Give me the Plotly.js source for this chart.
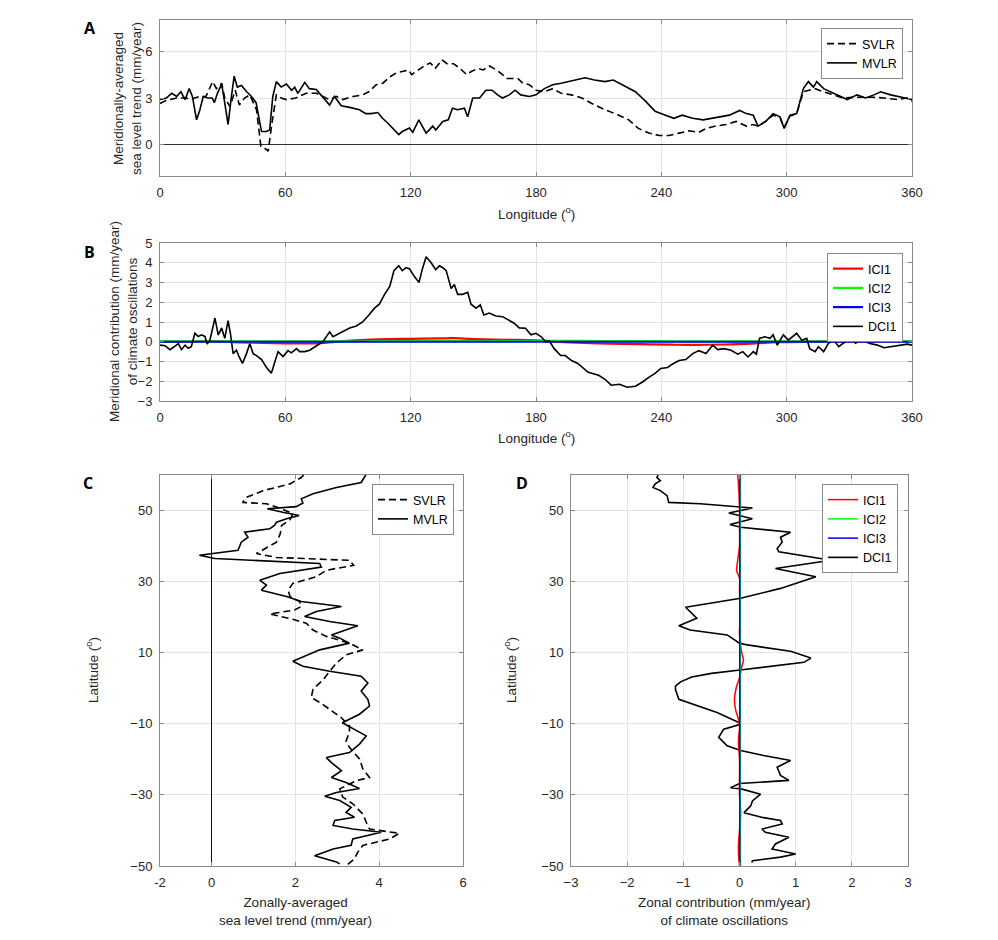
<!DOCTYPE html>
<html>
<head>
<meta charset="utf-8">
<script src="https://cdn.plot.ly/plotly-3.0.1.min.js"></script>
<style>html,body{margin:0;padding:0;background:#fff;}#chart{width:998px;height:940px;}</style>
</head>
<body>
<div id="chart"></div>
<script>
// ---------- Panel A: meridionally-averaged sea level trend ----------
const lonA_MVLR = [0,3,5.6,8,10,12,14,15.5,17.5,19,20.7,23,25,26,27.5,29.5,30.5,32.6,34,35.5,37,39,41.5,43.8,46,48.6,51,52.5,54,55.7,58,60.5,63,64.5,66,69.3,71.5,74.8,77,81.2,83.5,86.8,90.8,95.5,98.5,101,104.3,106.5,109,111.5,114.3,116,119.4,121,123.9,127.4,130.6,132,135.4,138,140,142.5,145.7,147.3,149.7,153,156,159,161.6,164,167.2,170,172.7,176.8,180,184,188,192,197,203.5,208,213,217,221,227.6,232.4,237,242,246,250,255,260,264.6,267.8,272.6,277.5,280.7,284,286.3,290,293.5,296.8,298.8,301.6,304.8,308,310.4,312.8,314.4,317.7,320.9,324,329,333.7,337.7,341.8,345,349.8,354.4,360];
const MVLR_A = [2.9,3.0,3.3,3.1,3.4,2.9,3.6,3.1,1.6,2.2,3.1,3.0,3.0,2.7,3.3,3.9,3.1,1.3,2.9,4.4,3.7,3.8,3.4,3.1,2.7,0.85,0.85,0.95,3.1,4.05,3.7,3.9,3.5,3.7,3.3,4.0,3.6,3.55,3.2,2.55,3.1,2.5,2.4,2.25,2.0,2.0,2.07,1.7,1.4,1.07,0.65,0.85,1.07,0.8,1.6,0.75,1.2,0.95,1.5,1.6,2.35,2.25,2.35,1.8,3.0,3.0,3.5,3.5,3.2,3.0,3.2,3.5,3.2,3.1,3.2,3.6,3.85,3.95,4.1,4.3,4.15,4.05,4.15,3.85,3.4,2.8,2.15,1.9,1.7,1.9,1.7,1.6,1.7,1.8,1.9,2.2,2.0,1.9,1.2,1.5,2.0,1.8,1.05,1.9,2.0,3.6,4.05,3.7,4.05,3.6,3.4,3.2,2.9,3.2,3.0,3.2,3.4,3.2,3.05,2.9];
const lonA_SVLR = [0,3,8,11,15.5,19,22,25.2,27,29.5,31,33.5,36,38,40.5,43,46.2,48.3,50,51.8,53.4,55.7,58,60.5,65,70,75,78,81,84.4,87.6,92.4,97,100,103.5,106.7,110,113,116,119,120.5,123.8,127,129.4,131.8,135,137.4,140.5,143.6,146.8,149,152.3,154.7,157.8,161,164,165.8,169,171.3,173.7,176.8,180,184,188,192,197,202,206.7,213,219.6,224.4,229,234,239,243.7,248.5,253.3,258,261.4,266,271,275.8,280.7,284,286.3,290,293.5,296.8,298.8,301.6,304.8,308,311,313.6,317.7,322.5,327,333,341,346.6,353,357.6,360];
const SVLR_A = [2.65,2.85,3.0,3.0,2.95,3.1,3.1,4.05,3.6,3.95,3.0,2.45,3.5,2.55,3.0,3.2,2.25,-0.1,-0.2,-0.4,1.2,3.2,3.0,2.9,3.0,3.3,3.3,3.1,2.9,3.1,2.9,3.1,3.2,3.4,3.85,3.95,4.35,4.6,4.7,4.8,4.5,4.8,5.1,5.25,4.9,5.45,5.2,5.2,4.9,4.5,4.7,4.9,4.8,5.05,4.8,4.5,4.25,4.25,4.25,3.95,3.85,3.5,3.4,3.6,3.3,3.2,3.0,2.65,2.25,1.9,1.6,1.05,0.75,0.6,0.6,0.75,0.9,0.8,1.05,1.2,1.3,1.5,1.2,1.3,1.2,1.5,1.9,1.75,1.1,1.85,2.0,3.4,3.5,3.6,3.4,3.2,3.0,3.05,3.05,3.0,2.9,3.0,2.8];

// ---------- Panel B: meridional contribution of climate oscillations ----------
const lonB_DCI1 = [0,2.4,4.8,7,8.8,10.3,12,13.5,15,16.7,18.3,19.9,21.5,22.6,23.9,26.3,27.9,29.5,31,32.6,33.7,35,36.6,37.9,39.5,41.4,43,44.6,46.2,48.6,51,53.3,54.9,56.5,58.9,61.3,62.9,65.3,66.9,69.3,71.7,74,76.4,78,79.6,81.2,82.8,84.4,87.6,90.8,94,97,100,102.7,105,107.5,110,112,114.3,116,117.8,119.4,121.8,124,125.5,127.4,129.8,132,133.8,135.4,137,139.4,140.9,142.5,144.9,147.3,148.9,151.3,153.3,155,157.6,160.8,164,167.2,169.5,172,175,177.6,180,182.5,184.7,186.3,188.7,191.8,194,197,200,205,210,213,216,220,223.6,227.6,230.8,234,237,239.7,243,245,248.5,251.7,255,258,261.4,264.6,267,270,273.4,276.6,279,281.5,284,285.5,287,289.5,292,293.5,295.5,298.4,300.8,304.8,307.2,309.6,311,313.6,315.2,317.7,320,322.5,324.9,328,331.3,333,336,339.4,343.4,346.6,349.8,353.8,357.8,360];
const DCI1_B = [-0.17,-0.2,-0.4,-0.25,-0.1,-0.4,-0.17,-0.33,-0.25,0.43,0.27,0.35,0.27,-0.12,0.08,1.2,0.34,0.7,0.17,1.07,0.43,-0.6,-0.43,-0.77,-1.1,-0.6,-0.1,-0.6,-0.7,-0.9,-1.3,-1.6,-1.1,-0.5,-0.75,-0.45,-0.56,-0.35,-0.5,-0.5,-0.43,-0.25,-0.1,0,0.22,0.5,0.25,0.34,0.5,0.7,0.8,1.0,1.35,1.7,1.9,2.4,2.8,3.6,3.85,3.6,3.75,3.7,3.3,3.0,3.65,4.3,4.0,3.65,3.85,3.75,3.6,2.7,2.9,2.4,2.4,2.5,1.9,1.7,1.87,1.35,1.45,1.3,1.27,1.1,0.94,0.7,0.68,0.35,0.43,0.25,0,0.05,-0.35,-0.7,-0.7,-0.95,-1.1,-1.55,-1.7,-1.9,-2.2,-2.15,-2.3,-2.25,-2.05,-1.8,-1.6,-1.35,-1.3,-1.15,-0.95,-0.9,-0.6,-0.45,-0.6,-0.17,-0.4,-0.35,-0.43,-0.63,-0.5,-0.77,-0.5,-0.63,0.17,0.25,0.17,0.35,-0.17,0.35,0.08,0.43,0.08,0.17,-0.35,-0.5,-0.25,-0.5,-0.08,0.1,-0.25,0,0.12,-0.08,0.12,-0.08,-0.17,-0.3,-0.25,-0.2,-0.12,-0.17];
const lonB_ICI = [0,15,25,35,45,60,75,90,105,120,135,140,150,165,180,190,200,215,230,245,255,270,285,295,310,330,345,360];
const ICI1_B = [0,0,0.03,-0.02,-0.05,-0.08,-0.08,0.05,0.12,0.15,0.17,0.18,0.14,0.1,0.07,0,-0.05,-0.1,-0.12,-0.15,-0.16,-0.14,-0.08,-0.02,0,0,0,0];
const ICI2_B = [0.02,0.02,0.02,0.02,0.02,0.02,0.02,0.02,0.03,0.03,0.03,0.03,0.03,0.03,0.04,0.04,0.04,0.03,0.03,0.02,0.02,0.02,0.02,0.02,0.02,0.02,0.02,0.02];
const ICI3_B = [0,0,0,0,0,0,0,0,0,0,0,0,0,0,0,0,0,0,0,0,0,0,0,0,0,0,0,0];

// ---------- Panel C: zonally-averaged sea level trend ----------
const latC_MVLR = [60,59.3,57.9,56.5,54.7,53.3,52.1,51.1,50.5,49.5,48.6,47.7,46.7,45.8,44.9,43.9,42.5,41.1,38.8,37.4,36.5,35.1,34.1,32.3,30.4,29,27.6,25.8,24.4,23,21.6,20.2,18.8,17.6,16.4,15,14.1,12.7,10.8,7.6,6.2,4.8,3.4,1.5,-0.8,-3.1,-5,-7.3,-9.7,-11.5,-13.4,-15.7,-18.1,-19.5,-20.9,-23.2,-25.1,-26.5,-28.2,-29.3,-30.4,-31.6,-33.5,-34.9,-36.3,-37.2,-38.6,-39.6,-40.5,-42.4,-44.2,-45.2,-47.1,-48.9,-49.4];
const MVLR_C = [3.68,3.65,3.57,2.98,2.42,2.14,2.18,2.02,1.33,1.7,2.09,1.79,1.55,1.5,1.39,0.79,0.87,0.71,0.63,-0.29,0.08,2.58,2.62,1.63,1.15,1.31,1.19,1.79,2.14,3.1,2.5,2.22,2.82,3.49,3.21,2.86,3.06,3.29,2.58,1.94,2.18,2.82,3.57,3.73,3.57,3.73,3.77,3.53,3.12,3.41,3.69,3.53,3.29,2.74,2.86,3.1,2.86,3.21,3.53,2.98,2.7,3.06,3.33,3.21,3.41,2.94,2.9,3.37,4.05,3.37,3.33,2.9,2.46,2.98,3.06];
const latC_SVLR = [60,59.3,57.5,55.6,53.7,52.3,51.9,50.5,49.1,47.4,45.8,43.5,41.1,39.7,37.9,36.8,36.0,34.6,33.2,31.4,29.5,27.6,25.8,24.4,23,22,20.9,19.4,18.3,16.4,14.6,12.7,10.8,9.4,7.1,4.8,2.4,-0.3,-2.6,-4.1,-5.9,-8.3,-10.6,-12.4,-14.8,-16.6,-19.9,-22.7,-25.1,-26,-28.3,-30.6,-32.5,-35.4,-37.7,-39.6,-40.8,-42.4,-44.2,-46.1,-48,-49.4,-50];
const SVLR_C = [2.2,2.14,1.87,1.23,0.83,0.74,1.31,1.67,1.94,1.87,1.67,1.64,1.55,1.35,1.07,1.55,3.29,3.39,2.74,2.5,1.94,1.83,1.87,2.1,2.14,1.98,1.39,1.94,2.26,2.42,2.74,3.29,3.61,3.21,2.98,2.82,2.66,2.42,2.38,2.6,2.82,3.1,3.29,3.29,3.21,3.29,3.53,3.61,3.77,3.45,3.06,3.13,3.37,3.61,3.69,3.77,4.48,4.25,3.61,3.49,3.41,3.25,3.2];

// ---------- Panel D: zonal contribution of climate oscillations ----------
const latD_DCI1 = [60,59.3,58.4,57.5,56.5,55.6,54.2,52.3,51.9,51.1,50.7,49.3,47.7,46.1,45.3,43.9,42.5,41.1,39.3,38.4,36,33.7,31.4,28.1,25.3,22.8,19.7,17.6,16.4,15,12.7,12.2,10.4,8.5,7.3,5.2,4.2,3.2,1.8,0.6,-0.35,-3.1,-4.5,-6.8,-9.7,-10.2,-11.5,-13.8,-16.2,-17.5,-18.9,-20.3,-22.2,-24.5,-25.9,-26.8,-28,-28.3,-29.8,-31.7,-33.1,-35,-36.4,-37.2,-38.2,-39.6,-40.5,-41.9,-43.8,-45.2,-46.6,-47.5,-48.5,-49];
const DCI1_D = [-1.45,-1.47,-1.41,-1.5,-1.54,-1.41,-1.29,-1.26,-0.7,0,0.23,-0.19,0.23,-0.17,0.02,0.91,0.73,0.76,0.67,0.7,1.63,0.64,1.36,0.73,0.02,-0.96,-0.76,-1.08,-0.88,-0.22,0,0.14,0.91,1.27,1.15,0.05,-0.5,-0.85,-1.05,-1.14,-1.14,-1.08,-0.82,-0.4,0,0,-0.28,-0.37,-0.22,0.02,0.43,0.91,0.67,0.73,0.88,0,-0.16,0.03,0.375,0.23,0.2,0.08,0.43,0.73,0.76,0.4,0.46,0.88,0.64,0.58,1.0,0.73,0.23,0.22];
const latD_ICI = [60,55,50,45,40,35,33,31,28,20,15,10,8,6,3,0,-3,-6,-10,-15,-20,-30,-35,-40,-45,-50];
const ICI1_D = [-0.03,-0.01,0,0,0,-0.04,-0.05,0,0,0.01,0,0.04,0.07,0.04,0,-0.06,-0.09,-0.07,0,-0.02,0,0,0.02,0,-0.02,0];
const ICI2_D = [0.015,0.015,0.015,0.015,0.015,0.015,0.015,0.015,0.015,0.015,0.015,0.015,0.015,0.015,0.015,0.015,0.015,0.015,0.015,0.015,0.015,0.015,0.015,0.015,0.015,0.015];
const ICI3_D = [0.005,0.005,0.005,0.005,0.005,0.005,0.005,0.005,0.005,0.005,0.005,0.005,0.005,0.005,0.005,0.005,0.005,0.005,0.005,0.005,0.005,0.005,0.005,0.005,0.005,0.005];

const lonTicks = [0,60,120,180,240,300,360];

// ---------- layout helpers ----------
const W = 998, H = 940;
const FONT = 'Liberation Sans, Arial, sans-serif';
const px = v => v / W;
const py = v => 1 - v / H;
const DASH = '7px,4px';

function axisBase(extra) {
  return Object.assign({
    showline: true, mirror: 'ticks', linecolor: '#8a8a8a', linewidth: 1,
    ticks: 'inside', ticklen: 4, tickcolor: '#8a8a8a', tickwidth: 1,
    showgrid: true, gridcolor: '#e3e3e3', gridwidth: 1,
    zeroline: false, fixedrange: true,
    tickfont: {family: FONT, size: 13, color: '#262626'},
    ticklabelstandoff: 4
  }, extra);
}

const traces = [
  // A
  {x: lonA_SVLR, y: SVLR_A, xaxis: 'x', yaxis: 'y', name: 'SVLR', mode: 'lines',
   line: {color: '#000', width: 1.6, dash: DASH}, legend: 'legend'},
  {x: lonA_MVLR, y: MVLR_A, xaxis: 'x', yaxis: 'y', name: 'MVLR', mode: 'lines',
   line: {color: '#000', width: 1.6}, legend: 'legend'},
  // B
  {x: lonB_ICI, y: ICI1_B, xaxis: 'x2', yaxis: 'y2', name: 'ICI1', mode: 'lines',
   line: {color: '#ff0000', width: 2.2, shape: 'spline'}, legend: 'legend2'},
  {x: lonB_ICI, y: ICI2_B, xaxis: 'x2', yaxis: 'y2', name: 'ICI2', mode: 'lines',
   line: {color: '#00ff00', width: 2.2, shape: 'spline'}, legend: 'legend2'},
  {x: lonB_ICI, y: ICI3_B, xaxis: 'x2', yaxis: 'y2', name: 'ICI3', mode: 'lines',
   line: {color: '#0000ff', width: 2.2, shape: 'spline'}, legend: 'legend2'},
  {x: lonB_DCI1, y: DCI1_B, xaxis: 'x2', yaxis: 'y2', name: 'DCI1', mode: 'lines',
   line: {color: '#000', width: 1.6}, legend: 'legend2'},
  // C
  {x: SVLR_C, y: latC_SVLR, xaxis: 'x3', yaxis: 'y3', name: 'SVLR', mode: 'lines',
   line: {color: '#000', width: 1.6, dash: DASH}, legend: 'legend3'},
  {x: MVLR_C, y: latC_MVLR, xaxis: 'x3', yaxis: 'y3', name: 'MVLR', mode: 'lines',
   line: {color: '#000', width: 1.6}, legend: 'legend3'},
  // D
  {x: DCI1_D, y: latD_DCI1, xaxis: 'x4', yaxis: 'y4', name: 'DCI1', mode: 'lines',
   line: {color: '#000', width: 1.6}, legend: 'legend4', legendrank: 4},
  {x: ICI1_D, y: latD_ICI, xaxis: 'x4', yaxis: 'y4', name: 'ICI1', mode: 'lines',
   line: {color: '#ff0000', width: 1.5, shape: 'spline'}, legend: 'legend4', legendrank: 1},
  {x: ICI2_D, y: latD_ICI, xaxis: 'x4', yaxis: 'y4', name: 'ICI2', mode: 'lines',
   line: {color: '#00ff00', width: 1.5}, legend: 'legend4', legendrank: 2},
  {x: ICI3_D, y: latD_ICI, xaxis: 'x4', yaxis: 'y4', name: 'ICI3', mode: 'lines',
   line: {color: '#0000ff', width: 1.5}, legend: 'legend4', legendrank: 3}
];

function legendBox(xr, yt) {
  return {
    x: px(xr), xanchor: 'right', y: py(yt), yanchor: 'top',
    bgcolor: '#ffffff', bordercolor: '#8a8a8a', borderwidth: 1,
    font: {family: FONT, size: 12.5, color: '#000'},
    tracegroupgap: 0, itemwidth: 30, traceorder: 'normal'
  };
}

function ann(text, x, y, opts) {
  return Object.assign({text: text, x: px(x), y: py(y), xref: 'paper', yref: 'paper',
    showarrow: false, xanchor: 'center', yanchor: 'middle',
    font: {family: FONT, size: 13.5, color: '#262626'}}, opts || {});
}
const letterFont = {family: 'Open Sans, Liberation Sans, sans-serif', size: 16, color: '#000', weight: 700};

const layout = {
  width: W, height: H,
  margin: {l: 0, r: 0, t: 0, b: 0},
  paper_bgcolor: '#fff', plot_bgcolor: '#fff',
  showlegend: true,
  font: {family: FONT, color: '#262626'},
  xaxis: axisBase({domain: [px(160), px(912)], anchor: 'y', range: [0, 360], tickvals: lonTicks}),
  yaxis: axisBase({domain: [py(176), py(20)], anchor: 'x', range: [-2, 8], tickvals: [0, 3, 6],
    zeroline: true, zerolinecolor: '#333', zerolinewidth: 1}),
  xaxis2: axisBase({domain: [px(160), px(912)], anchor: 'y2', range: [0, 360], tickvals: lonTicks}),
  yaxis2: axisBase({domain: [py(401), py(243)], anchor: 'x2', range: [-3, 5], dtick: 1, tick0: 0}),
  xaxis3: axisBase({domain: [px(160), px(463)], anchor: 'y3', range: [-1.23, 6],
    tickvals: [-1.23, 0, 2, 4, 6], ticktext: ['-2', '0', '2', '4', '6'],
    zeroline: true, zerolinecolor: '#111', zerolinewidth: 1}),
  yaxis3: axisBase({domain: [py(866), py(475)], anchor: 'x3', range: [-50, 60],
    tickvals: [-50, -30, -10, 10, 30, 50]}),
  xaxis4: axisBase({domain: [px(571), px(908)], anchor: 'y4', range: [-3, 3], dtick: 1, tick0: 0}),
  yaxis4: axisBase({domain: [py(866), py(475)], anchor: 'x4', range: [-50, 60],
    tickvals: [-50, -30, -10, 10, 30, 50]}),
  legend: legendBox(903, 28),
  legend2: legendBox(903, 253),
  legend3: legendBox(454, 484),
  legend4: legendBox(898, 484),
  annotations: [
    ann('<b>A</b>', 90, 28, {font: letterFont}),
    ann('<b>B</b>', 89, 252, {font: letterFont}),
    ann('<b>C</b>', 88, 483, {font: letterFont}),
    ann('<b>D</b>', 522, 483, {font: letterFont}),
    ann('Longitude (<sup>o</sup>)', 536, 213),
    ann('Longitude (<sup>o</sup>)', 536, 437),
    ann('Meridionally-averaged<br>sea level trend (mm/year)', 128, 98, {textangle: -90}),
    ann('Meridional contribution (mm/year)<br>of climate oscillations', 123, 322, {textangle: -90}),
    ann('Latitude (<sup>o</sup>)', 92, 670, {textangle: -90}),
    ann('Latitude (<sup>o</sup>)', 510, 670, {textangle: -90}),
    ann('Zonally-averaged<br>sea level trend (mm/year)', 295, 911),
    ann('Zonal contribution (mm/year)<br>of climate oscillations', 724, 911)
  ]
};

Plotly.newPlot('chart', traces, layout, {staticPlot: true, displayModeBar: false});
</script>
</body>
</html>
